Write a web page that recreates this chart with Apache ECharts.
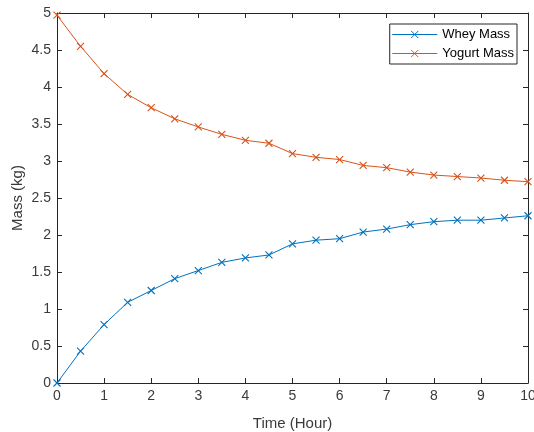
<!DOCTYPE html>
<html><head><meta charset="utf-8">
<script src="https://cdn.jsdelivr.net/npm/echarts@6/dist/echarts.min.js"></script>
<style>html,body{margin:0;padding:0;background:#fff}#c{width:534px;height:432px}</style>
</head><body><div id="c"></div>
<script>
const time = [0,0.5,1,1.5,2,2.5,3,3.5,4,4.5,5,5.5,6,6.5,7,7.5,8,8.5,9,9.5,10];
const whey = [0,0.43,0.79,1.09,1.25,1.41,1.52,1.63,1.69,1.73,1.88,1.93,1.95,2.04,2.08,2.14,2.18,2.20,2.20,2.23,2.26];
const yogurt = [4.97,4.55,4.18,3.90,3.72,3.57,3.46,3.36,3.28,3.24,3.10,3.05,3.02,2.94,2.91,2.85,2.81,2.79,2.77,2.74,2.72];
const xTicks = {min:0,max:10,interval:1};
const yTicks = {min:0,max:5,interval:0.5};

const font = 'Liberation Sans, Arial, Helvetica, sans-serif';
const axisCol = '#262626';
const labelCol = '#3a3a3a';
const cross = 'path://M0,0L10,10M10,0L0,10';
function pairs(ys){return time.map((t,i)=>[t,ys[i]]);}
function ser(name, ys, col){
  return {name, type:'line', data:pairs(ys), symbol:cross, symbolSize:7,
    lineStyle:{color:col,width:1}, itemStyle:{color:'rgba(0,0,0,0)',borderColor:col,borderWidth:1.1},
    emphasis:{disabled:true}, animation:false};
}
const chart = echarts.init(document.getElementById('c'));
function common(){return {axisLine:{show:true,onZero:false,lineStyle:{color:axisCol,width:1}}, axisTick:{show:true,inside:true,length:5,lineStyle:{color:axisCol}}, splitLine:{show:false}};}
chart.setOption({
  animation:false,
  grid:{left:57,right:6,top:13,bottom:49,containLabel:false,outerBoundsMode:'none'},
  legend:{top:24,right:17,orient:'vertical',itemWidth:45,itemHeight:9,itemGap:6,padding:[4,3,4,2],
    borderColor:'#262626',borderWidth:1,backgroundColor:'#fff',
    lineStyle:{width:1},itemStyle:{borderWidth:1},
    textStyle:{fontFamily:font,fontSize:13,color:'#000'},data:['Whey Mass','Yogurt Mass']},
  xAxis:[
    Object.assign({type:'value',min:xTicks.min,max:xTicks.max,interval:xTicks.interval,position:'bottom',
      name:'Time (Hour)',nameLocation:'middle',nameGap:33,nameMoveOverlap:false,nameTextStyle:{fontFamily:font,fontSize:15,color:labelCol},
      axisLabel:{fontFamily:font,fontSize:14,color:labelCol,margin:6}},common()),
    Object.assign({type:'value',min:xTicks.min,max:xTicks.max,interval:xTicks.interval,position:'top',axisLabel:{show:false}},common())
  ],
  yAxis:[
    Object.assign({type:'value',min:yTicks.min,max:yTicks.max,interval:yTicks.interval,position:'left',
      name:'Mass (kg)',nameLocation:'middle',nameGap:32,nameMoveOverlap:false,nameTextStyle:{fontFamily:font,fontSize:15,color:labelCol},
      axisLabel:{fontFamily:font,fontSize:14,color:labelCol,margin:6}},common()),
    Object.assign({type:'value',min:yTicks.min,max:yTicks.max,interval:yTicks.interval,position:'right',axisLabel:{show:false}},common())
  ],
  series:[ser('Whey Mass',whey,'#0072BD'), ser('Yogurt Mass',yogurt,'#D95319')]
});
</script></body></html>
